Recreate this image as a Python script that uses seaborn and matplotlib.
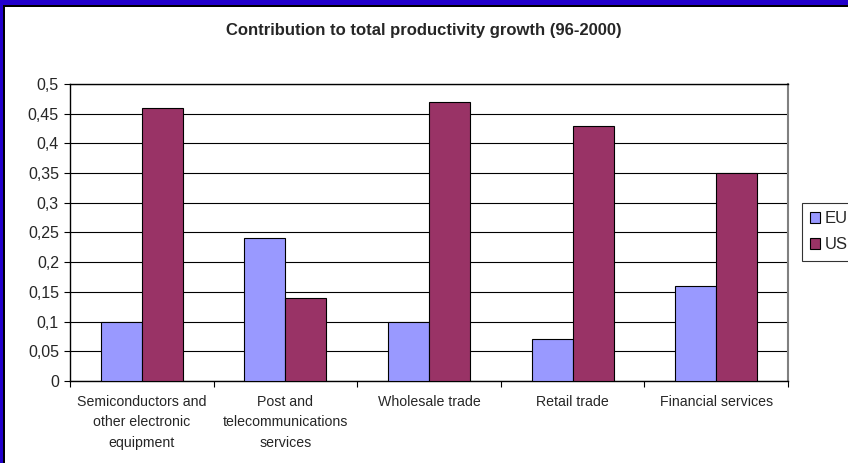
import matplotlib
matplotlib.use("Agg")
import matplotlib.pyplot as plt
import seaborn as sns
import pandas as pd
from matplotlib.patches import Rectangle
from matplotlib.ticker import FuncFormatter, MultipleLocator

categories = ["Semiconductors and\nother electronic\nequipment",
              "Post and\ntelecommunications\nservices",
              "Wholesale trade", "Retail trade", "Financial services"]
eu = [0.10, 0.24, 0.10, 0.07, 0.16]
us = [0.46, 0.14, 0.47, 0.43, 0.35]
series = ["EU", "US"]
colors = ["#9999FF", "#993366"]

df = pd.DataFrame({
    "cat": categories * 2,
    "val": eu + us,
    "series": ["EU"] * len(eu) + ["US"] * len(us),
})

sns.set_style("white")
plt.rcParams["font.family"] = ["Liberation Sans", "DejaVu Sans"]

W, H = 848, 463
fig = plt.figure(figsize=(W / 100, H / 100), dpi=100)
ax = fig.add_axes([70 / W, 1 - 381 / H, (788 - 70) / W, (381 - 84) / H])

sns.barplot(data=df, x="cat", y="val", hue="series", palette=colors,
            width=0.57, edgecolor="black", linewidth=0.8, ax=ax,
            saturation=1, legend=False, zorder=3)

ax.set_ylim(0, 0.5)
ax.set_xlim(-0.5, 4.5)
ax.yaxis.set_major_locator(MultipleLocator(0.05))
ax.yaxis.set_major_formatter(FuncFormatter(
    lambda v, p: ("%g" % round(v, 2)).replace(".", ",")))
ax.grid(axis="y", color="black", linewidth=0.8, zorder=0)
ax.set_axisbelow(True)
ax.set_xlabel("")
ax.set_ylabel("")
ax.set_xticks(range(len(categories)))
ax.set_xticklabels(categories, fontsize=10.2, linespacing=1.6)
ax.set_xticks([i - 0.5 for i in range(len(categories) + 1)], minor=True)
ax.tick_params(axis="x", which="major", length=0, pad=10)
ax.tick_params(axis="x", which="minor", length=4, width=0.8, color="black", direction="out")
ax.tick_params(axis="y", length=4, width=0.8, color="black", direction="out",
               labelsize=11.5, pad=4)
ax.yaxis.set_ticks_position("left")
ax.xaxis.set_ticks_position("bottom")
for s in ["left", "bottom", "top"]:
    ax.spines[s].set_color("black")
    ax.spines[s].set_linewidth(1)
ax.spines["right"].set_color("#808080")
ax.spines["right"].set_linewidth(1.5)

fig.text(0.5, 1 - 31 / H, "Contribution to total productivity growth (96-2000)",
         ha="center", va="center", fontsize=12, fontweight="bold")

handles = [Rectangle((0, 0), 1, 1, facecolor=c, edgecolor="black", linewidth=0.8)
           for c in colors]
leg = fig.legend(handles, series, loc="upper left",
                 bbox_to_anchor=(802 / W, 1 - 203 / H), frameon=True,
                 fontsize=12, handlelength=0.6, handleheight=0.6,
                 handletextpad=0.25, labelspacing=0.65, borderpad=0.5,
                 borderaxespad=0, fancybox=False)
leg.get_frame().set_edgecolor("black")
leg.get_frame().set_linewidth(0.8)

# blue slide border (left and top)
fig.patches.append(Rectangle((0, 0), 3 / W, 1, transform=fig.transFigure,
                             facecolor="#2200CC", edgecolor="none", zorder=10))
fig.patches.append(Rectangle((0, 1 - 5 / H), 1, 5 / H, transform=fig.transFigure,
                             facecolor="#2200CC", edgecolor="none", zorder=10))
fig.patches.append(Rectangle((3 / W, 0), 2 / W, 1 - 5 / H, transform=fig.transFigure,
                             facecolor="black", edgecolor="none", zorder=10))
fig.patches.append(Rectangle((3 / W, 1 - 7 / H), 1, 2 / H, transform=fig.transFigure,
                             facecolor="black", edgecolor="none", zorder=10))

fig.savefig("out.png", dpi=100)
